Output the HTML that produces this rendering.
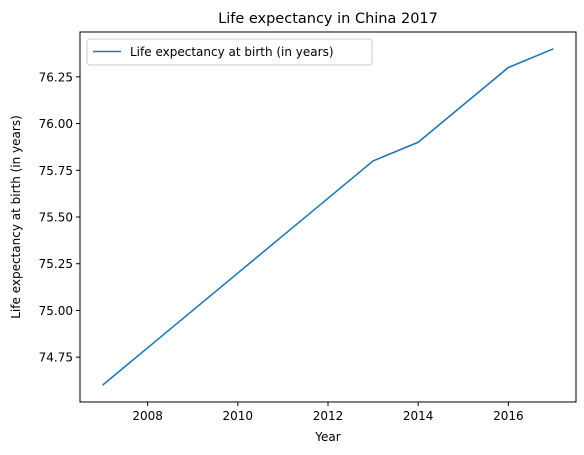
<!DOCTYPE html>
<html><head><meta charset="utf-8"><style>
body{margin:0;background:#fff}
svg{display:block;font-family:"DejaVu Sans","Liberation Sans",sans-serif}
</style></head><body>
<svg width="584" height="455" id="c">
<rect width="584" height="455" fill="#fff"/>
<text x="328" y="23" text-anchor="middle" font-size="14.5">Life expectancy in China 2017</text>
<text x="328" y="441" text-anchor="middle" font-size="12">Year</text>
<text transform="translate(20,217) rotate(-90)" text-anchor="middle" font-size="12">Life expectancy at birth (in years)</text>
<g id="ax"></g>
<rect x="80" y="32" width="496" height="370" fill="none" stroke="#000" stroke-width="1"/>
<g>
<rect x="87" y="39" width="285" height="26" rx="3" fill="#fff" stroke="#ccc"/>
<line x1="93" y1="51.5" x2="121" y2="51.5" stroke="#1f77b4" stroke-width="1.6"/>
<text x="130" y="56" font-size="12">Life expectancy at birth (in years)</text>
</g>
</svg>
<script>
const years=[2007,2008,2009,2010,2011,2012,2013,2014,2015,2016,2017];
const values=[74.6,74.8,75.0,75.2,75.4,75.6,75.8,75.9,76.1,76.3,76.4];
const xTicks=[2008,2010,2012,2014,2016];
const yTicks=["74.75","75.00","75.25","75.50","75.75","76.00","76.25"];
const NS="http://www.w3.org/2000/svg";
const L=80,R=576,T=32,B=402;
const xmin=Math.min(...years),xmax=Math.max(...years),xp=(xmax-xmin)*0.05;
const vmin=Math.min(...values),vmax=Math.max(...values),yp=(vmax-vmin)*0.05;
const sx=v=>L+(v-(xmin-xp))/((xmax+xp)-(xmin-xp))*(R-L);
const sy=v=>B-(v-(vmin-yp))/((vmax+yp)-(vmin-yp))*(B-T);
const g=document.getElementById('ax');
function el(t,a){const e=document.createElementNS(NS,t);for(const k in a)e.setAttribute(k,a[k]);g.appendChild(e);return e;}
xTicks.forEach(t=>{const x=sx(t);
const l=el('line',{x1:x,x2:x,y1:B,y2:B+4,stroke:'#000'});


const tx=el('text',{x:x,y:B+18,'text-anchor':'middle','font-size':12});tx.textContent=t;

});
yTicks.forEach(t=>{const y=sy(parseFloat(t));
const l=el('line',{x1:L-4,x2:L,y1:y,y2:y,stroke:'#000'});


const tx=el('text',{x:L-7,y:y+4.5,'text-anchor':'end','font-size':12});tx.textContent=t;

});
const p=el('polyline',{points:years.map((y,i)=>sx(y)+','+sy(values[i])).join(' '),fill:'none',stroke:'#1f77b4','stroke-width':1.6});


</script>
</body></html>
